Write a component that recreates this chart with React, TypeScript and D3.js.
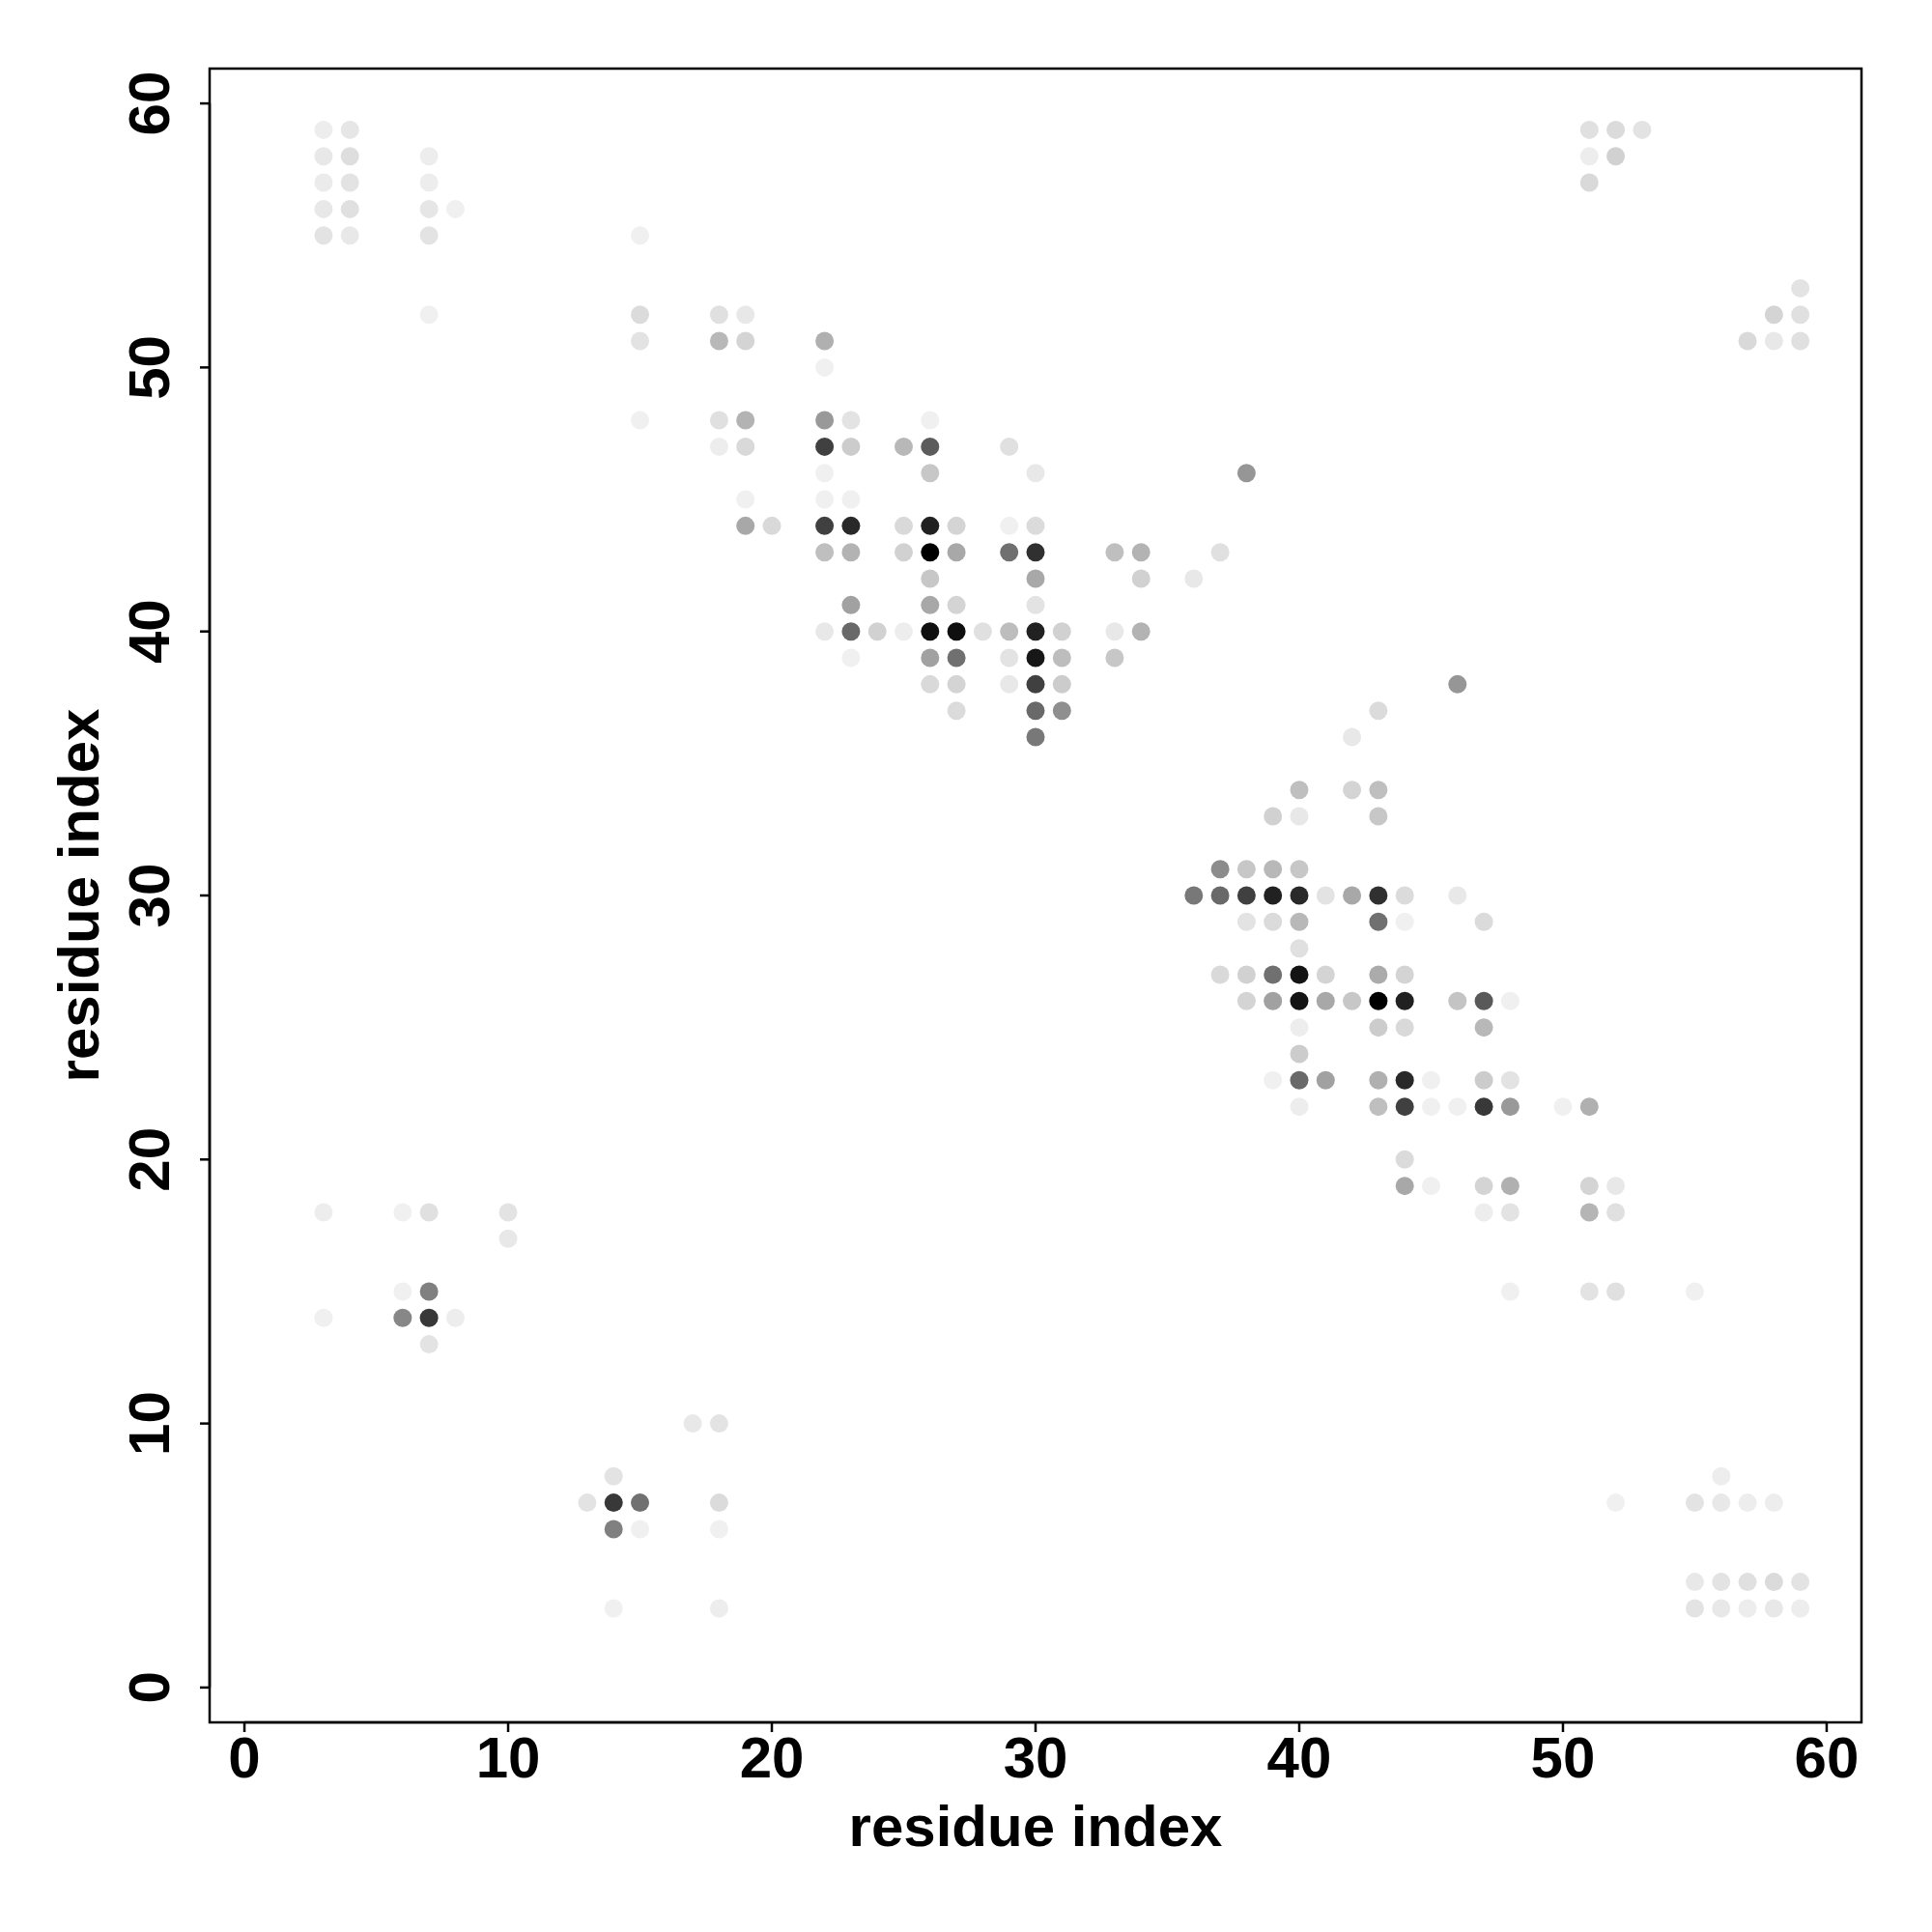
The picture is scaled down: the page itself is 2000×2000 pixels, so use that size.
import React from "react";
import * as d3 from "d3";

// contacts: [residue i (x), residue j (y), contact strength 0..1]
const contacts: [number, number, number][] = [
  [3,59,.07],[4,59,.1],[3,58,.09],[4,58,.13],[3,57,.08],[4,57,.11],[3,56,.09],[4,56,.12],[3,55,.11],[4,55,.09],
  [7,58,.07],[7,57,.07],[7,56,.1],[8,56,.06],[7,55,.11],[7,52,.06],
  [15,55,.06],[15,52,.14],[15,51,.11],[18,52,.12],[19,52,.09],[18,51,.28],[19,51,.17],[22,51,.31],[22,50,.06],
  [15,48,.06],[18,48,.12],[19,48,.3],[22,48,.4],[23,48,.11],[18,47,.07],[19,47,.15],[22,47,.75],[23,47,.2],
  [22,46,.06],[19,45,.06],[22,45,.06],[23,45,.06],[19,44,.34],[20,44,.15],[22,44,.75],[23,44,.84],[22,43,.25],[23,43,.3],
  [26,48,.06],[25,47,.28],[26,47,.64],[29,47,.12],[26,46,.22],[30,46,.09],
  [25,44,.15],[26,44,.87],[27,44,.17],[29,44,.06],[30,44,.14],
  [25,43,.18],[26,43,1],[27,43,.34],[29,43,.56],[30,43,.81],[33,43,.25],[34,43,.3],[37,43,.12],
  [26,42,.22],[30,42,.34],[34,42,.18],[36,42,.09],
  [23,41,.37],[26,41,.34],[27,41,.17],[30,41,.11],
  [22,40,.09],[23,40,.59],[24,40,.18],[25,40,.07],[26,40,.94],[27,40,.94],[28,40,.12],[29,40,.26],[30,40,.87],[31,40,.18],[33,40,.09],[34,40,.3],
  [23,39,.06],[26,39,.37],[27,39,.56],[29,39,.11],[30,39,.91],[31,39,.26],[33,39,.22],
  [26,38,.15],[27,38,.17],[29,38,.09],[30,38,.75],[31,38,.2],
  [27,37,.14],[30,37,.59],[31,37,.44],
  [30,36,.53],[38,46,.41],
  [43,37,.14],[42,36,.09],[46,38,.41],
  [40,34,.25],[42,34,.17],[43,34,.25],
  [39,33,.18],[40,33,.09],[43,33,.22],
  [37,31,.45],[38,31,.22],[39,31,.28],[40,31,.22],
  [36,30,.53],[37,30,.59],[38,30,.75],[39,30,.87],[40,30,.84],[41,30,.11],[42,30,.34],[43,30,.81],[44,30,.14],[46,30,.09],
  [38,29,.11],[39,29,.14],[40,29,.28],[43,29,.56],[44,29,.06],[47,29,.14],
  [40,28,.12],
  [37,27,.15],[38,27,.18],[39,27,.56],[40,27,.92],[41,27,.17],[43,27,.33],[44,27,.17],
  [38,26,.17],[39,26,.37],[40,26,.92],[41,26,.34],[42,26,.22],[43,26,1],[44,26,.87],[46,26,.23],[47,26,.65],[48,26,.06],
  [40,25,.07],[43,25,.2],[44,25,.15],[47,25,.28],
  [40,24,.2],
  [39,23,.06],[40,23,.59],[41,23,.37],[43,23,.31],[44,23,.84],[45,23,.06],[47,23,.2],[48,23,.11],
  [40,22,.07],[43,22,.25],[44,22,.75],[45,22,.06],[46,22,.06],[47,22,.78],[48,22,.4],[50,22,.06],[51,22,.31],
  [44,20,.14],
  [44,19,.34],[45,19,.06],[47,19,.17],[48,19,.31],[51,19,.17],[52,19,.09],
  [47,18,.07],[48,18,.11],[51,18,.29],[52,18,.12],
  [48,15,.06],[51,15,.11],[52,15,.12],[55,15,.06],
  [3,18,.07],[6,18,.06],[7,18,.12],[10,18,.11],[10,17,.09],[6,15,.06],[7,15,.5],[3,14,.06],[6,14,.47],[7,14,.78],[8,14,.07],[7,13,.11],
  [17,10,.09],[18,10,.11],[14,8,.11],[13,7,.11],[14,7,.78],[15,7,.56],[18,7,.14],[14,6,.5],[15,6,.06],[18,6,.06],[14,3,.06],[18,3,.07],
  [52,7,.06],[56,8,.07],[55,7,.11],[56,7,.09],[57,7,.07],[58,7,.07],
  [55,4,.09],[56,4,.11],[57,4,.12],[58,4,.14],[59,4,.11],
  [55,3,.11],[56,3,.09],[57,3,.07],[58,3,.09],[59,3,.07],
  [51,59,.12],[52,59,.14],[53,59,.11],[51,58,.07],[52,58,.18],[51,57,.15],
  [59,53,.11],[58,52,.17],[59,52,.12],[57,51,.15],[58,51,.09],[59,51,.12],
];

const xTicks = [0, 10, 20, 30, 40, 50, 60];
const yTicks = [0, 10, 20, 30, 40, 50, 60];
const xLabel = "residue index";
const yLabel = "residue index";
const dataRange: [number, number] = [1, 59];

export default function App() {
  const W = 2000, H = 2000;
  const left = 217, right = 1927, top = 71, bottom = 1783;
  const ext = (dataRange[1] - dataRange[0]) * 0.04;
  const dom: [number, number] = [dataRange[0] - ext, dataRange[1] + ext];
  const x = d3.scaleLinear().domain(dom).range([left, right]);
  const y = d3.scaleLinear().domain(dom).range([bottom, top]);
  const color = d3.scaleLinear<string>().domain([0, 1]).range(["#ffffff", "#000000"]);
  const font = "'Liberation Sans', Arial, Helvetica, sans-serif";
  const tickLen = 10;
  const fs = 60;
  return (
    <svg width={W} height={H} style={{ position: "absolute", left: 0, top: 0, background: "#fff" }}
      fontFamily={font}>
      <rect x={0} y={0} width={W} height={H} fill="#fff" />
      {contacts.map(([i, j, v], k) => (
        <circle key={k} cx={x(i)} cy={y(j)} r={9.5} fill={color(v)} />
      ))}
      <rect x={left} y={top} width={right - left} height={bottom - top} fill="none" stroke="#000" strokeWidth={2.5} />
      {/* x axis */}
      <line x1={x(xTicks[0])} x2={x(xTicks[xTicks.length - 1])} y1={bottom} y2={bottom} stroke="#000" strokeWidth={2.5} />
      {xTicks.map((t) => (
        <g key={"x" + t}>
          <line x1={x(t)} x2={x(t)} y1={bottom} y2={bottom + tickLen} stroke="#000" strokeWidth={2.5} />
          <text x={x(t)} y={1840} textAnchor="middle" fontSize={fs} fontWeight="bold">{t}</text>
        </g>
      ))}
      {/* y axis */}
      <line x1={left} x2={left} y1={y(yTicks[0])} y2={y(yTicks[yTicks.length - 1])} stroke="#000" strokeWidth={2.5} />
      {yTicks.map((t) => (
        <g key={"y" + t}>
          <line x1={left - tickLen} x2={left} y1={y(t)} y2={y(t)} stroke="#000" strokeWidth={2.5} />
          <text transform={`translate(175,${y(t)}) rotate(-90)`} textAnchor="middle" fontSize={fs} fontWeight="bold">{t}</text>
        </g>
      ))}
      <text x={(left + right) / 2} y={1911} textAnchor="middle" fontSize={fs} fontWeight="bold">{xLabel}</text>
      <text transform={`translate(102,${(top + bottom) / 2}) rotate(-90)`} textAnchor="middle" fontSize={fs} fontWeight="bold">{yLabel}</text>
    </svg>
  );
}
